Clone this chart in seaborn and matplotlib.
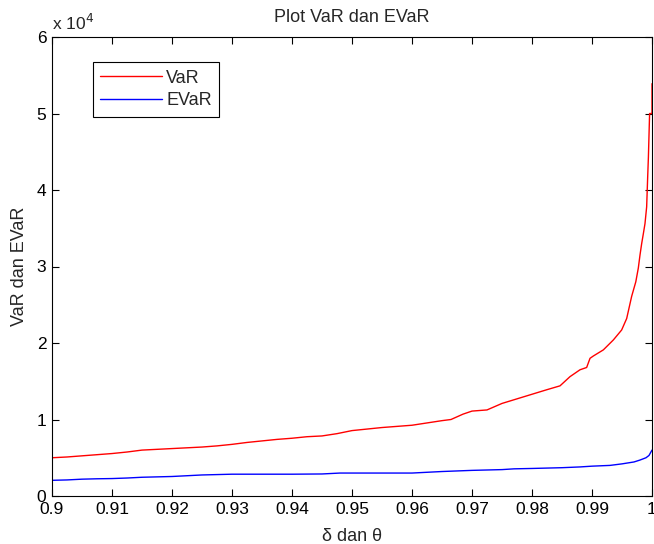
import matplotlib
matplotlib.use("Agg")
import matplotlib.pyplot as plt
from matplotlib.ticker import FuncFormatter, MultipleLocator
import seaborn as sns
import pandas as pd

# ---- data ----
var_x = [0.900, 0.9025, 0.905, 0.9075, 0.910, 0.9125, 0.915, 0.9175, 0.920, 0.9225,
         0.925, 0.9275, 0.930, 0.9325, 0.935, 0.9375, 0.940, 0.9425, 0.945, 0.9475,
         0.950, 0.9525, 0.955, 0.9575, 0.960, 0.9625, 0.965, 0.9665, 0.9685, 0.970,
         0.9725, 0.975, 0.9775, 0.980, 0.9825, 0.98467, 0.98633, 0.988, 0.98911, 0.98967,
         0.99022, 0.99189, 0.99356, 0.99494, 0.99578, 0.99661, 0.99730, 0.99772, 0.9980,
         0.99828, 0.99856, 0.99883, 0.99911, 0.99928, 0.99940, 0.99960, 1.0, 1.0]
var_y = [5000, 5100, 5250, 5400, 5550, 5750, 6000, 6100, 6200, 6300,
         6400, 6550, 6750, 7000, 7200, 7400, 7550, 7750, 7850, 8150,
         8550, 8750, 8950, 9100, 9250, 9550, 9850, 10000, 10700, 11100,
         11250, 12100, 12700, 13300, 13900, 14400, 15600, 16500, 16800, 18000,
         18300, 19100, 20400, 21700, 23200, 26100, 28000, 29800, 31500,
         33000, 34300, 35600, 37800, 41700, 44300, 50000, 50000, 53900]

evar_x = [0.900, 0.9025, 0.905, 0.9075, 0.910, 0.9125, 0.915, 0.9175, 0.920, 0.9225,
          0.925, 0.9275, 0.930, 0.935, 0.940, 0.945, 0.948, 0.955, 0.960, 0.9625,
          0.965, 0.970, 0.975, 0.977, 0.980, 0.985, 0.988, 0.990, 0.993, 0.995,
          0.997, 0.998, 0.999, 0.9995, 1.000]
evar_y = [2050, 2100, 2200, 2250, 2280, 2350, 2450, 2500, 2550, 2650,
          2750, 2800, 2850, 2850, 2850, 2880, 3000, 3000, 3000, 3100,
          3200, 3350, 3450, 3550, 3600, 3700, 3800, 3900, 4000, 4200,
          4450, 4700, 5000, 5300, 6000]

series_names = ["VaR", "EVaR"]
series_colors = ["#ff0000", "#0000ff"]
title = "Plot VaR dan EVaR"
xlabel = "\u03b4 dan \u03b8"
ylabel = "VaR dan EVaR"

sns.set_theme(style="white")
plt.rcParams["font.family"] = ["Liberation Sans", "DejaVu Sans"]

fig = plt.figure(figsize=(6.54, 5.44), dpi=100)
ax = fig.add_axes([52 / 654, 48 / 544, 600 / 654, 459 / 544])

df_var = pd.DataFrame({"x": var_x, "y": var_y})
df_evar = pd.DataFrame({"x": evar_x, "y": evar_y})
sns.lineplot(data=df_var, x="x", y="y", ax=ax, color=series_colors[0], lw=1.0,
             sort=False, estimator=None, label=series_names[0])
sns.lineplot(data=df_evar, x="x", y="y", ax=ax, color=series_colors[1], lw=1.0,
             sort=False, estimator=None, label=series_names[1])

ax.set_xlim(0.9, 1.0)
ax.set_ylim(0, 60000)
ax.xaxis.set_major_locator(MultipleLocator(0.01))
ax.yaxis.set_major_locator(MultipleLocator(10000))
ax.xaxis.set_major_formatter(FuncFormatter(lambda v, p: f"{round(v, 2):g}"))
ax.yaxis.set_major_formatter(FuncFormatter(lambda v, p: f"{v / 1e4:g}"))

ax.tick_params(axis="both", which="major", direction="in", length=5, width=0.8,
               colors="black", labelsize=12.5, top=True, right=True,
               bottom=True, left=True, pad=4)
for s in ax.spines.values():
    s.set_visible(True)
    s.set_color("black")
    s.set_linewidth(0.8)

ax.set_title(title, fontsize=13, pad=11)
ax.set_xlabel(xlabel, fontsize=13, labelpad=8)
ax.set_ylabel(ylabel, fontsize=13, labelpad=6)
ax.text(0.0, 1.008, "x 10$^{4}$", transform=ax.transAxes, fontsize=12.5,
        ha="left", va="bottom")

leg = ax.legend(loc="upper left", bbox_to_anchor=(0.068, 0.9455), borderaxespad=0,
                fancybox=False, frameon=True, edgecolor="black", fontsize=13,
                handlelength=3.4, handletextpad=0.25, borderpad=0.42,
                labelspacing=0.3)
leg.get_frame().set_linewidth(0.8)
leg.get_frame().set_alpha(1)

fig.savefig("out.png", dpi=100, facecolor="white")
